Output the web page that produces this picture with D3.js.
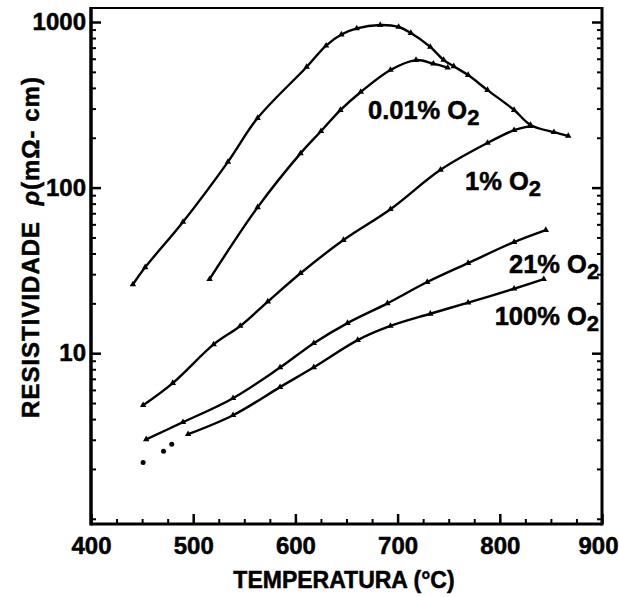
<!DOCTYPE html>
<html>
<head>
<meta charset="utf-8">
<script src="https://cdn.jsdelivr.net/npm/d3@7"></script>
<style>
  body { margin: 0; background: #fff; }
  text { font-family: "Liberation Sans", Arial, sans-serif; font-weight: bold; fill: #000; stroke: #000; stroke-width: 0.5px; }
</style>
</head>
<body>
<svg id="chart" width="619" height="597"></svg>
<script>
// tick values
var xTicks = [400, 500, 600, 700, 800, 900];
var yTicks = [10, 100, 1000];

// curve with no label (top one)
var tempTop = [441, 453, 490, 534, 563, 611, 630, 645, 660, 683, 701, 713, 732, 745, 755, 769, 788, 814, 830, 853, 867];
var rhoTop  = [26, 33, 62, 143, 263, 535, 720, 840, 915, 959, 933, 858, 707, 590, 540, 478, 388, 294, 239, 216, 205];

// 0.01% O2
var temp001 = [516, 563, 605, 625, 644, 664, 693, 718, 735, 749];
var rho001  = [28, 76, 161, 219, 294, 378, 513, 589, 560, 530];

// 1% O2
var temp1 = [451, 480, 520, 546, 573, 605, 647, 693, 742, 788, 814, 830];
var rho1  = [4.85, 6.6, 11.3, 14.6, 20.5, 30.4, 48.2, 74, 128, 186, 222, 235];

// 21% O2
var temp21 = [454, 490, 539, 585, 618, 651, 690, 729, 769, 814, 845];
var rho21  = [3.02, 3.83, 5.35, 8.2, 11.5, 15.2, 20, 26.9, 35, 46.9, 55.4];

// 100% O2
var temp100 = [495, 539, 585, 618, 661, 693, 732, 769, 814, 843];
var rho100  = [3.24, 4.22, 6.24, 8.22, 12, 14.6, 17.3, 20.2, 24.5, 28];

// loose points at low temperature
var tempDots = [451, 471, 479];
var rhoDots  = [2.19, 2.56, 2.82];

// curve labels (anchored in data units)
var labelText = ['0.01% O', '1% O', '21% O', '100% O'];
var labelTemp = [671, 766, 809, 795];
var labelRho  = [259, 96.6, 30.4, 14.8];

var series = [
  { t: tempTop, r: rhoTop },
  { t: temp001, r: rho001 },
  { t: temp1, r: rho1 },
  { t: temp21, r: rho21 },
  { t: temp100, r: rho100 }
];

var svg = d3.select('#chart');
var x = d3.scaleLinear().domain([400, 900]).range([91, 602]);
var y = d3.scaleLog().domain([0.93, 1215]).range([524, 8]);

var minorX = d3.range(400, 901, 25).filter(function (v) { return v % 100 !== 0; });
var minorY = [];
[1, 10, 100].forEach(function (d) {
  for (var k = 1; k <= 9; k++) {
    if (yTicks.indexOf(d * k) < 0) minorY.push(d * k);
  }
});

// minor ticks
svg.append('g')
  .attr('transform', 'translate(0,524)')
  .call(d3.axisBottom(x).tickValues(minorX).tickSize(-5).tickFormat(''))
  .call(function (g) { g.select('.domain').remove(); g.selectAll('line').attr('stroke-width', 2); });

svg.append('g')
  .attr('transform', 'translate(91,0)')
  .call(d3.axisLeft(y).tickValues(minorY).tickSize(-5).tickFormat(''))
  .call(function (g) { g.select('.domain').remove(); g.selectAll('line').attr('stroke-width', 2); });

svg.append('g')
  .attr('transform', 'translate(602,0)')
  .call(d3.axisRight(y).tickValues(minorY).tickSize(-5).tickFormat(''))
  .call(function (g) { g.select('.domain').remove(); g.selectAll('line').attr('stroke-width', 2); });

// major ticks with labels
svg.append('g')
  .attr('transform', 'translate(0,524)')
  .call(d3.axisBottom(x).tickValues(xTicks).tickSize(-10).tickPadding(13).tickFormat(d3.format('d')))
  .call(function (g) {
    g.select('.domain').remove();
    g.selectAll('line').attr('stroke-width', 2.5);
    g.selectAll('text').style('font-size', '24px').attr('fill', '#000')
      .attr('dx', function (d) { return d === 900 ? -4 : 0; });
  });

svg.append('g')
  .attr('transform', 'translate(91,0)')
  .call(d3.axisLeft(y).tickValues(yTicks).tickSize(-10).tickPadding(5).tickFormat(d3.format('d')))
  .call(function (g) {
    g.select('.domain').remove();
    g.selectAll('line').attr('stroke-width', 2.5);
    g.selectAll('text').style('font-size', '24px').attr('fill', '#000');
  });

svg.append('g')
  .attr('transform', 'translate(602,0)')
  .call(d3.axisRight(y).tickValues(yTicks).tickSize(-10).tickFormat(''))
  .call(function (g) { g.select('.domain').remove(); g.selectAll('line').attr('stroke-width', 2.5); });

// frame
var frame = svg.append('g').attr('stroke', '#000').attr('fill', 'none');
frame.append('line').attr('x1', 91).attr('x2', 602).attr('y1', 8).attr('y2', 8).attr('stroke-width', 2);
frame.append('line').attr('x1', 91).attr('x2', 602).attr('y1', 524).attr('y2', 524).attr('stroke-width', 3);
frame.append('line').attr('x1', 91).attr('x2', 91).attr('y1', 7).attr('y2', 525.5).attr('stroke-width', 3.5);
frame.append('line').attr('x1', 602).attr('x2', 602).attr('y1', 7).attr('y2', 525.5).attr('stroke-width', 3);

// curves
var line = d3.line()
  .x(function (d) { return x(d[0]); })
  .y(function (d) { return y(d[1]); })
  .curve(d3.curveCatmullRom.alpha(0.5));

var tri = d3.symbol().type(d3.symbolTriangle).size(18);

series.forEach(function (s) {
  var pts = s.t.map(function (t, i) { return [t, s.r[i]]; });
  svg.append('path')
    .datum(pts)
    .attr('d', line)
    .attr('fill', 'none')
    .attr('stroke', '#000')
    .attr('stroke-width', 2.4);
  svg.append('g').selectAll('path')
    .data(pts)
    .enter().append('path')
    .attr('d', tri)
    .attr('transform', function (d) { return 'translate(' + x(d[0]) + ',' + y(d[1]) + ')'; })
    .attr('fill', '#000');
});

svg.append('g').selectAll('circle')
  .data(tempDots)
  .enter().append('circle')
  .attr('cx', function (d) { return x(d); })
  .attr('cy', function (d, i) { return y(rhoDots[i]); })
  .attr('r', 2.5)
  .attr('fill', '#000');

// curve labels
labelText.forEach(function (txt, i) {
  var t = svg.append('text')
    .attr('x', x(labelTemp[i]))
    .attr('y', y(labelRho[i]))
    .style('font-size', '25.5px');
  t.append('tspan').text(txt);
  t.append('tspan').attr('dy', 6).style('font-size', '22px').text('2');
});

// axis titles
svg.append('text')
  .attr('x', 344)
  .attr('y', 588)
  .attr('text-anchor', 'middle')
  .style('font-size', '23px')
  .text('TEMPERATURA (°C)');

var yt = svg.append('text')
  .attr('transform', 'translate(39,247) rotate(-90)')
  .attr('text-anchor', 'middle')
  .style('font-size', '24px')
  .style('letter-spacing', '1px');
yt.append('tspan').text('RESISTIVIDADE\u00a0\u00a0');
yt.append('tspan').style('font-style', 'italic').text('ρ');
yt.append('tspan').text('(mΩ- cm)');
</script>
</body>
</html>
